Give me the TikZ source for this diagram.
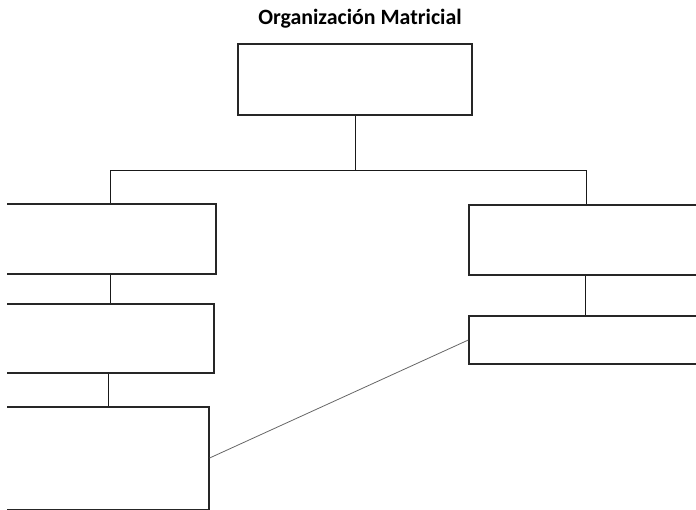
\documentclass[tikz,border=0pt]{standalone}
\usepackage{fontspec}
\setmainfont{Carlito}
\usepackage{tikz}
\usetikzlibrary{positioning}

\begin{document}
\begin{tikzpicture}[
  x=0.75pt, y=-0.75pt,
  box/.style={draw=black!85, line width=1pt, fill=white,
              inner sep=0pt},
  conn/.style={draw=black!90, line width=0.7pt},
  link/.style={draw=black!60, line width=0.6pt},
  title/.style={font=\bfseries\fontsize{16.4}{19}\selectfont}
]
\useasboundingbox (0,0) rectangle (696,510);
\clip (7,0) rectangle (696,510);

\node[title] (ttl) at (360,19) {Organización Matricial};

\node[box, minimum width=175.5pt, minimum height=53.25pt]
      (top) at (355,79.5) {};
% left column
\node[box, minimum width=169.5pt, minimum height=52.5pt]
      (left1) at (103,239) {};
\node[box, minimum width=168pt, minimum height=51.75pt]
      (left2) at (102,338.5) {};
\node[box, minimum width=164.25pt, minimum height=77.25pt]
      (left3) at (99.5,458.5) {};
% right column
\node[box, minimum width=180.75pt, minimum height=52.5pt]
      (right1) at (589.5,240) {};
\node[box, minimum width=180.75pt, minimum height=36pt]
      (right2) at (589.5,340) {};

\coordinate (busL) at (110,170);
\coordinate (busR) at (586,170);

\draw[conn] (top.south) -- (top.south |- busL);
\draw[conn] (busL) -- (busR);
\draw[conn] (busL) -- (busL |- left1.north);
\draw[conn] (busR) -- (busR |- right1.north);
\draw[conn] (busL |- left1.south) -- (busL |- left2.north);
\draw[conn] ([xshift=-1.5pt]busL |- left2.south)
         -- ([xshift=-1.5pt]busL |- left3.north);
\draw[conn] ([xshift=-0.75pt]busR |- right1.south)
         -- ([xshift=-0.75pt]busR |- right2.north);
\draw[link] (right2.west) -- ([yshift=0.4pt]left3.east);
\end{tikzpicture}
\end{document}
